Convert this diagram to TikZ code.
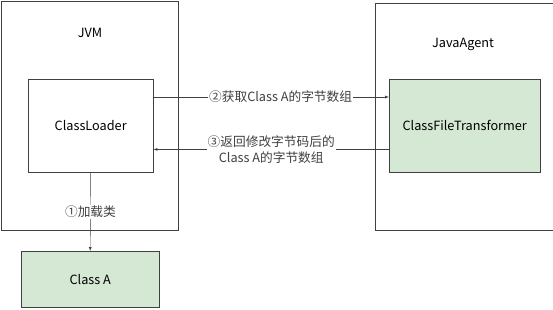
\documentclass[tikz,border=0pt]{standalone}
\usepackage{fontspec}
\setmainfont{Noto Sans CJK SC}
\usetikzlibrary{arrows,positioning}
\definecolor{boxgreen}{HTML}{D5E8D4}
\definecolor{linegray}{HTML}{404040}

\begin{document}
\begin{tikzpicture}[x=1pt, y=-1pt, font=\fontsize{12.7}{16}\selectfont,
    outer/.style={draw=linegray, rectangle, minimum width=177pt, minimum height=229pt, anchor=north west},
    inner/.style={draw=linegray, rectangle, minimum width=125pt, minimum height=93pt, anchor=north west},
    green/.style={fill=boxgreen},
    lbl/.style={fill=white, inner sep=1pt, align=center}]
    \useasboundingbox (0,0) rectangle (553,309);

    % JVM side
    \node[outer] (jvm) at (1,0.5) {};
    \node (jvmtitle) at (90,33) {JVM};
    \node[inner] (loader) at (28,79) {};
    \node (loadertext) at (loader.center) {ClassLoader};
    \node[inner, green, minimum width=138pt, minimum height=56pt] (classa) at (21,251) {};
    \node (classatext) at (classa.center) {Class A};

    % JavaAgent side
    \node[outer, minimum width=178pt, minimum height=227pt] (agent) at (375,3) {};
    \node (agenttitle) at (463,44) {JavaAgent};
    \node[inner, green, minimum width=151pt] (transformer) at (389,79) {};
    \node (transformertext) at (transformer.center) {ClassFileTransformer};

    % connectors
    \draw[->, >=latex, linegray] (loader.south) -- node[lbl] {①加载类} (classa.north);
    \draw[->, >=latex, linegray] ([yshift=-18pt]loader.north east) -- node[lbl, pos=0.54] {②获取Class A的字节数组} ([yshift=-18pt]transformer.north west);
    \draw[->, >=latex, linegray] ([yshift=23pt]transformer.south west) -- node[lbl] {③返回修改字节码后的\\Class A的字节数组} ([yshift=23pt]loader.south east);
\end{tikzpicture}
\end{document}
